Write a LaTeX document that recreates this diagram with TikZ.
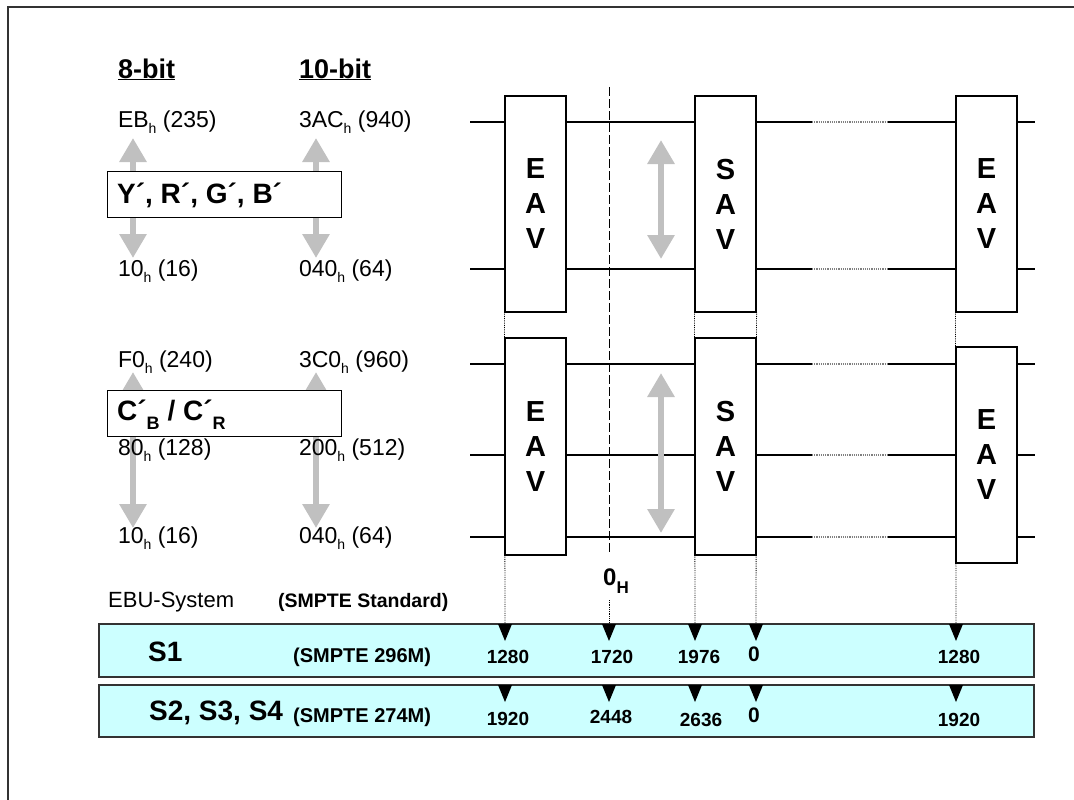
\documentclass[tikz,border=0pt]{standalone}
\usepackage{fontspec}
\setmainfont{Liberation Sans}
\usetikzlibrary{arrows.meta}
\definecolor{barfill}{HTML}{CCFFFF}
\definecolor{agray}{HTML}{C0C0C0}
\definecolor{framegray}{HTML}{333333}
\newcommand\fsz[1]{\fontsize{#1}{#1}\selectfont}
\newcommand\hsub[1]{\raisebox{-6pt}{\fsz{14}#1}}
\newcommand\bsub[1]{\raisebox{-9pt}{\fsz{18}#1}}
\begin{document}
\begin{tikzpicture}[x=1pt,y=-1pt,
 lbl/.style={anchor=base west,inner sep=0pt,outer sep=0pt,font=\fsz{23}},
 hdr/.style={anchor=base west,inner sep=0pt,font=\bfseries\fsz{27}},
 compbox/.style={draw,line width=1.2pt,fill=white,anchor=north west,inner sep=0pt,minimum width=234pt,minimum height=46pt},
 complbl/.style={anchor=base west,inner sep=0pt,font=\bfseries\fsz{28}},
 sigbox/.style={draw,line width=1.2pt,fill=white,inner sep=0pt,minimum width=61pt,align=center,font=\bfseries\fontsize{29}{35}\selectfont},
 garrow/.style={draw=agray,line width=6.5pt,{Triangle[width=26pt,length=24pt]}-{Triangle[width=26pt,length=24pt]}},
 level/.style={line width=1.2pt},
 gapline/.style={gray,line width=1.2pt,densely dotted},
 guide/.style={line width=0.8pt,densely dotted},
 zeroline/.style={line width=0.9pt,dash pattern=on 9pt off 3pt},
 bar/.style={draw=framegray,line width=1.5pt,fill=barfill,anchor=north west,inner sep=0pt,minimum width=935pt},
 syslbl/.style={anchor=base west,inner sep=0pt,font=\bfseries\fsz{28}},
 stdlbl/.style={anchor=base west,inner sep=0pt,font=\bfseries\fsz{20}},
 num/.style={anchor=base,inner sep=0pt,font=\bfseries\fsz{19}},
 zeronum/.style={anchor=base,inner sep=0pt,font=\bfseries\fsz{21}},
 tmark/.style={fill=black},
]
\useasboundingbox (0,0) rectangle (1074,800);
% outer frame (top and left edges)
\coordinate (fbl) at (8,800); \coordinate (ftl) at (8,7); \coordinate (ftr) at (1074,7);
\draw[framegray,line width=2pt] (fbl) -- (ftl) -- (ftr);

% gray range arrows (left), behind the labels
\coordinate (a1t) at (133,138); \coordinate (a1b) at (133,258);
\coordinate (a2t) at (316,138); \coordinate (a2b) at (316,258);
\coordinate (a3t) at (133,372); \coordinate (a3b) at (133,528);
\coordinate (a4t) at (316,372); \coordinate (a4b) at (316,528);
\draw[garrow] (a1t) -- (a1b);
\draw[garrow] (a2t) -- (a2b);
\draw[garrow] (a3t) -- (a3b);
\draw[garrow] (a4t) -- (a4b);

% ---------- left column labels ----------
\node[hdr] (h8) at (118,78) {\underline{8-bit}};
\node[hdr] (h10) at (299,78) {\underline{10-bit}};

\node[lbl] (eb) at (118,127) {EB\hsub{h} (235)};
\node[lbl] (ac) at (299,127) {3AC\hsub{h} (940)};
\node[lbl] (ya) at (118,276) {10\hsub{h} (16)};
\node[lbl] (yb) at (299,276) {040\hsub{h} (64)};

\node[lbl] (fa) at (118,367) {F0\hsub{h} (240)};
\node[lbl] (fb) at (299,367) {3C0\hsub{h} (960)};
\node[lbl] (ma) at (118,455) {80\hsub{h} (128)};
\node[lbl] (mb) at (299,455) {200\hsub{h} (512)};
\node[lbl] (la) at (118,543) {10\hsub{h} (16)};
\node[lbl] (lb) at (299,543) {040\hsub{h} (64)};

\node[compbox] (ybox) at (107,171) {};
\node[complbl] (ylbl) at (117,203) {Y´, R´, G´, B´};
\node[compbox] (cbox) at (107,390) {};
\node[complbl] (clbl) at (117,420) {C´\bsub{B} / C´\bsub{R}};

\node[anchor=base west,inner sep=0pt,font=\fsz{22}] (ebu) at (108,607) {EBU-System};
\node[stdlbl,font=\bfseries\fsz{19.5}] (std) at (278,607) {(SMPTE Standard)};

% ---------- timing diagram levels ----------
\foreach \yy/\nm in {122/u1,269/u2,364/l1,455/l2,537/l3}{
  \coordinate (\nm a) at (470,\yy);
  \coordinate (\nm b) at (812,\yy);
  \coordinate (\nm c) at (888,\yy);
  \coordinate (\nm d) at (1035,\yy);
  \draw[level] (\nm a) -- (\nm b);
  \draw[gapline] (\nm b) -- (\nm c);
  \draw[level] (\nm c) -- (\nm d);
}

% gray arrows (timing)
\coordinate (g1t) at (661,140); \coordinate (g1b) at (661,259);
\coordinate (g2t) at (661,373); \coordinate (g2b) at (661,533);
\draw[garrow] (g1t) -- (g1b);
\draw[garrow] (g2t) -- (g2b);

% zero line
\coordinate (z0) at (609,87); \coordinate (z1) at (609,553);
\coordinate (z2) at (609,600);
\draw[zeroline] (z0) -- (z1);
\node[anchor=base west,inner sep=0pt,font=\bfseries\fsz{24}] (zh) at (603,585) {0\raisebox{-8pt}{\fsz{17}H}};

% bars
\node[bar,minimum height=53pt] (s1) at (98,623) {};
\node[bar,minimum height=52pt] (s2) at (98,684) {};

% guides
\coordinate (k1) at (505,623); \coordinate (k2) at (609,623);
\coordinate (k3) at (695,623); \coordinate (k4) at (756,623);
\coordinate (k5) at (956,623);
\draw[guide] (z2) -- (k2);

% signal boxes
\node[sigbox,minimum height=216pt] (eav1) at (535.5,204) {E\\A\\V};
\node[sigbox,minimum height=216pt] (sav1) at (725.5,204) {S\\A\\V};
\node[sigbox,minimum height=216pt] (eav2) at (986.5,204) {E\\A\\V};
\draw[guide] (eav1.south west) -- (k1);
\draw[guide] (sav1.south west) -- (k3);
\draw[guide] (sav1.south east) -- (k4);
\draw[guide] (eav2.south west) -- (k5);
\node[sigbox,minimum height=217pt] (eav3) at (535.5,446.5) {E\\A\\V};
\node[sigbox,minimum height=217pt] (sav2) at (725.5,446.5) {S\\A\\V};
\node[sigbox,minimum height=216pt] (eav4) at (986.5,455) {E\\A\\V};

% bar labels
\node[syslbl] (s1l) at (148,661) {S1};
\node[stdlbl] (s1s) at (293,662) {(SMPTE 296M)};
\node[syslbl] (s2l) at (149,720) {S2, S3, S4};
\node[stdlbl] (s2s) at (293,722) {(SMPTE 274M)};

% markers
\foreach \xx in {505,609,695,756,956}{
  \fill[tmark] (\xx-7,624) -- (\xx+7,624) -- (\xx,641) -- cycle;
  \fill[tmark] (\xx-7,685) -- (\xx+7,685) -- (\xx,702) -- cycle;
}
\node[num] (n11) at (508,663) {1280};
\node[num] (n12) at (612,663) {1720};
\node[num] (n13) at (699,663) {1976};
\node[zeronum] (n14) at (754,661) {0};
\node[num] (n15) at (959,663) {1280};
\node[num] (n21) at (508,725) {1920};
\node[num] (n22) at (611,723) {2448};
\node[num] (n23) at (701,726) {2636};
\node[zeronum] (n24) at (754,722) {0};
\node[num] (n25) at (959,726) {1920};
\end{tikzpicture}
\end{document}
